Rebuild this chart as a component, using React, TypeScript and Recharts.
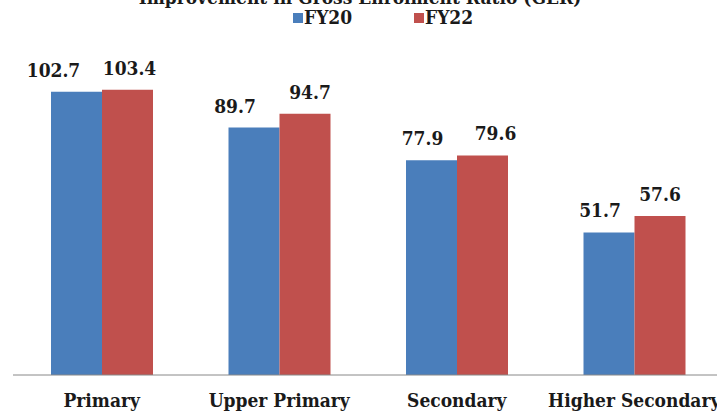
import React from 'react';
import { BarChart, Bar, XAxis, YAxis, LabelList } from 'recharts';

const categories = ['Primary', 'Upper Primary', 'Secondary', 'Higher Secondary'];
const fy20 = [102.7, 89.7, 77.9, 51.7];
const fy22 = [103.4, 94.7, 79.6, 57.6];
const seriesNames = ['FY20', 'FY22'];
const title = 'Improvement in Gross Enrolment Ratio (GER)';

const data = categories.map((c, i) => ({ cat: c, FY20: fy20[i], FY22: fy22[i] }));

// horizontal nudges of value labels (style only)
const nudge20 = [-23, -19, -9, -9];
const nudge22 = [2, 5, 13, 0];

const BLUE = '#4A7EBB';
const RED = '#C0504D';
const FONT = '"DejaVu Serif Condensed", "DejaVu Serif", serif';
const INK = '#1a1a1a';

const CatTick = (props: any) => {
  const { x, y, payload } = props;
  return (
    <text x={x} y={y} dy={24} textAnchor="middle" fontFamily={FONT} fontWeight="bold" fontSize={19} fill={INK}>
      {payload.value}
    </text>
  );
};

const makeLabel = (nudges: number[]) => (props: any) => {
  const { x, y, width, value, index } = props;
  return (
    <text x={x + width / 2 + nudges[index]} y={y - 15} textAnchor="middle" fontFamily={FONT} fontWeight="bold" fontSize={19} fill={INK}>
      {value}
    </text>
  );
};

const legendX = [293, 414];
const colors = [BLUE, RED];

export default function App() {
  return (
    <div style={{ position: 'absolute', left: 0, top: 0, width: 717, height: 414, overflow: 'hidden', background: '#fff' }}>
      <BarChart width={730} height={414} data={data} margin={{ top: 44, right: 7, bottom: 0, left: 13 }} barGap={0} barSize={51}>
        <XAxis dataKey="cat" height={39} tickLine={false} axisLine={{ stroke: '#888888' }} interval={0} tick={<CatTick />} />
        <YAxis hide domain={[0, 120]} />
        <Bar dataKey="FY20" name="FY20" fill={BLUE} isAnimationActive={false}>
          <LabelList dataKey="FY20" content={makeLabel(nudge20)} />
        </Bar>
        <Bar dataKey="FY22" name="FY22" fill={RED} isAnimationActive={false}>
          <LabelList dataKey="FY22" content={makeLabel(nudge22)} />
        </Bar>
      </BarChart>
      <svg width={717} height={32} style={{ position: 'absolute', left: 0, top: 0 }}>
        <text x={360} y={4} textAnchor="middle" fontFamily={FONT} fontWeight="bold" fontSize={19} fill={INK}>{title}</text>
        {seriesNames.map((n, i) => (
          <g key={n}>
            <rect x={legendX[i]} y={13} width={10} height={10} fill={colors[i]} />
            <text x={legendX[i] + 11} y={24} fontFamily={FONT} fontWeight="bold" fontSize={19} fill={INK}>{n}</text>
          </g>
        ))}
      </svg>
    </div>
  );
}
